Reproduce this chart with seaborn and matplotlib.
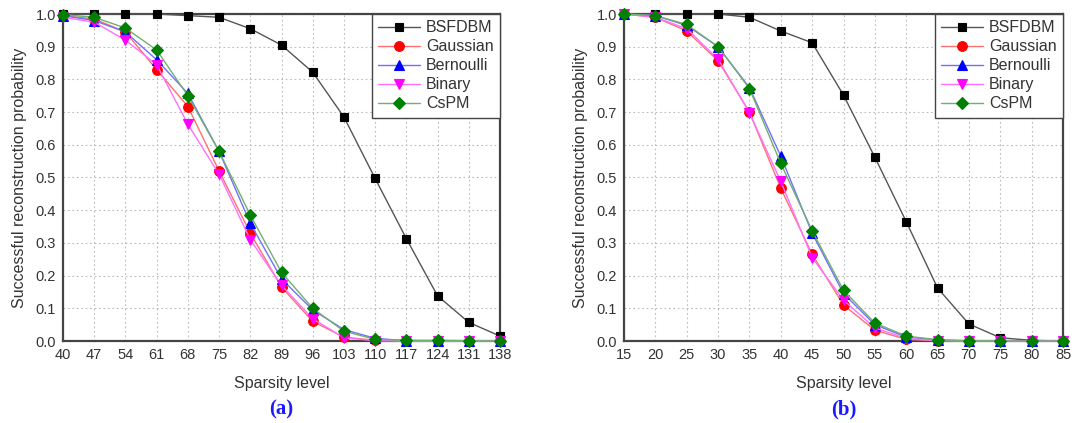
import numpy as np
import pandas as pd
import matplotlib
matplotlib.use("Agg")
import matplotlib.pyplot as plt
import seaborn as sns

# Panel (a) data
x_a = [40, 47, 54, 61, 68, 75, 82, 89, 96, 103, 110, 117, 124, 131, 138]
bsfdbm_a = [1.0, 1.0, 1.0, 1.0, 0.995, 0.99, 0.955, 0.905, 0.822, 0.685, 0.497, 0.313, 0.138, 0.057, 0.015]
gaussian_a = [0.995, 0.985, 0.945, 0.83, 0.717, 0.52, 0.33, 0.165, 0.06, 0.012, 0.002, 0.0, 0.0, 0.0, 0.0]
bernoulli_a = [0.995, 0.98, 0.945, 0.86, 0.757, 0.58, 0.36, 0.19, 0.095, 0.035, 0.008, 0.001, 0.0, 0.0, 0.0]
binary_a = [0.99, 0.975, 0.92, 0.845, 0.663, 0.51, 0.31, 0.17, 0.068, 0.01, 0.001, 0.0, 0.0, 0.0, 0.0]
cspm_a = [0.998, 0.99, 0.957, 0.89, 0.75, 0.58, 0.385, 0.21, 0.1, 0.03, 0.005, 0.002, 0.002, 0.001, 0.0]

# Panel (b) data
x_b = [15, 20, 25, 30, 35, 40, 45, 50, 55, 60, 65, 70, 75, 80, 85]
bsfdbm_b = [1.0, 1.0, 1.0, 1.0, 0.99, 0.948, 0.912, 0.752, 0.562, 0.365, 0.162, 0.052, 0.01, 0.002, 0.0]
gaussian_b = [1.0, 0.99, 0.948, 0.857, 0.70, 0.467, 0.265, 0.11, 0.033, 0.005, 0.001, 0.0, 0.0, 0.0, 0.0]
bernoulli_b = [1.0, 0.995, 0.965, 0.9, 0.775, 0.565, 0.33, 0.145, 0.05, 0.012, 0.003, 0.0, 0.0, 0.0, 0.0]
binary_b = [1.0, 0.99, 0.955, 0.862, 0.698, 0.488, 0.255, 0.125, 0.04, 0.008, 0.001, 0.0, 0.0, 0.0, 0.0]
cspm_b = [1.0, 0.995, 0.968, 0.9, 0.772, 0.543, 0.337, 0.155, 0.055, 0.015, 0.004, 0.001, 0.0, 0.0, 0.0]

names = ["BSFDBM", "Gaussian", "Bernoulli", "Binary", "CsPM"]
markers = ["s", "o", "^", "v", "D"]
mcolors = ["black", "red", "blue", "magenta", "green"]
lcolors = ["#555555", "#ff7070", "#7070ff", "#ff70ff", "#70b070"]
msizes = [6, 7, 7, 7, 6]

sns.set_style("white")
plt.rcParams["font.family"] = ["Liberation Sans", "DejaVu Sans"]
txt = "#333333"

fig = plt.figure(figsize=(10.77, 4.23), dpi=100)
ax_a = fig.add_axes([63 / 1077, 1 - 341 / 423, 437 / 1077, 327 / 423])
ax_b = fig.add_axes([624 / 1077, 1 - 341 / 423, 439 / 1077, 327 / 423])

panels = [
    (ax_a, x_a, [bsfdbm_a, gaussian_a, bernoulli_a, binary_a, cspm_a], "(a)"),
    (ax_b, x_b, [bsfdbm_b, gaussian_b, bernoulli_b, binary_b, cspm_b], "(b)"),
]

for ax, xs, series, tag in panels:
    for name, ys, m, mc, lc, ms in zip(names, series, markers, mcolors, lcolors, msizes):
        df = pd.DataFrame({"x": xs, "y": ys})
        sns.lineplot(data=df, x="x", y="y", ax=ax, color=lc, lw=1.0,
                     marker=m, markersize=ms, markerfacecolor=mc,
                     markeredgecolor=mc, markeredgewidth=0.8,
                     label=name, clip_on=False, zorder=3)
    ax.set_xlim(xs[0], xs[-1])
    ax.set_ylim(0, 1.0)
    ax.set_xticks(xs)
    ax.set_yticks(np.arange(0, 1.01, 0.1))
    ax.set_yticklabels([f"{v:.1f}" for v in np.arange(0, 1.01, 0.1)])
    ax.grid(True, linestyle=(0, (1.5, 2.5)), color="#bbbbbb", lw=0.8)
    for s in ax.spines.values():
        s.set_color("#444444")
        s.set_linewidth(1.6)
    ax.tick_params(direction="in", length=5, width=1.2, colors="#444444",
                   labelcolor=txt, labelsize=10.5, pad=5)
    ax.set_xlabel("Sparsity level", fontsize=11.5, color=txt, labelpad=10)
    ax.set_ylabel("Successful reconstruction probability", fontsize=11.5,
                  color=txt, labelpad=6)
    leg = ax.legend(loc="upper right", borderaxespad=0, fancybox=False,
                    fontsize=11.5, handlelength=2.6, labelspacing=0.25,
                    handletextpad=0.4, borderpad=0.4, framealpha=1)
    leg.get_frame().set_edgecolor("#444444")
    leg.get_frame().set_linewidth(1.0)
    for t in leg.get_texts():
        t.set_color(txt)
    ax.text(0.5, -0.18, tag, transform=ax.transAxes, ha="center", va="top",
            fontsize=15, fontweight="bold", color="#1a1aff",
            family="Liberation Serif")

fig.savefig("out.png", dpi=100)
